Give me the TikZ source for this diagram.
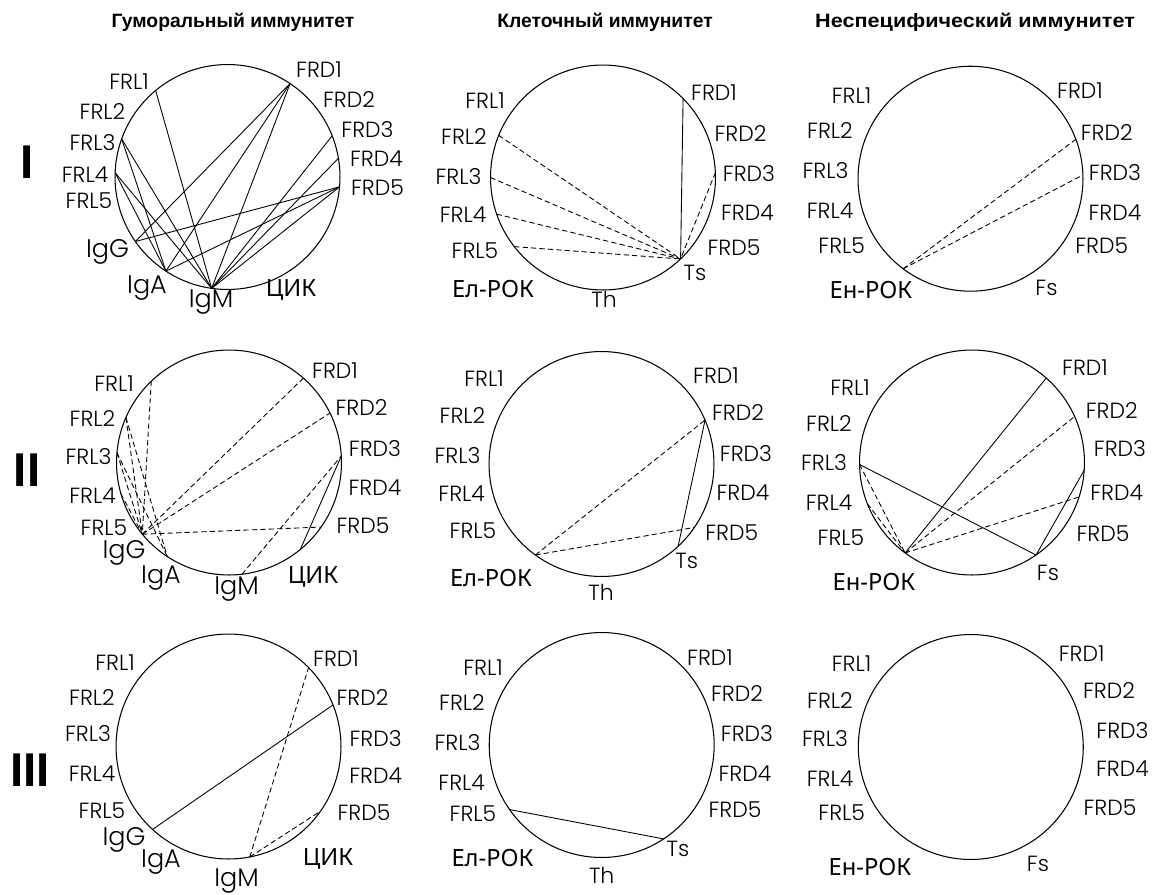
\documentclass[tikz,border=0pt]{standalone}
\usepackage{fontspec}
\setmainfont{Liberation Sans}
\newfontfamily\lat{Poppins Light}
\newfontfamily\cyr{Noto Sans}
\newcommand\onc[4]{\coordinate (#1) at ({#2+112.5*cos(#4)},{#3-112.5*sin(#4)});}
\begin{document}
\begin{tikzpicture}[x=0.02cm,y=-0.02cm,
  ring/.style={circle, draw, line width=0.6pt, minimum size=4.5cm, inner sep=0pt, outer sep=0pt},
  link/.style={line width=0.5pt},
  dlink/.style={line width=0.5pt, dash pattern=on 3pt off 1.8pt},
  lab/.style={inner sep=0pt, anchor=base, font=\lat\fontsize{12.5}{13}\selectfont},
  big/.style={inner sep=0pt, anchor=base, font=\lat\fontsize{14.5}{15}\selectfont},
  cyl/.style={inner sep=0pt, anchor=base, font=\cyr\fontsize{13.5}{14}\selectfont},
  ttl/.style={inner sep=0pt, font=\bfseries\fontsize{11}{12}\selectfont},
  rom/.style={inner sep=0pt, font=\bfseries\fontsize{27}{27}\selectfont}]
\useasboundingbox (0,0) rectangle (1157,894);

% titles
\node[ttl] (t1) at (233,22) {Гуморальный иммунитет};
\node[ttl] (t2) at (605,22) {Клеточный иммунитет};
\node[ttl, xscale=1.12, transform shape] (t3) at (975,22) {Неспецифический иммунитет};
\node[rom] (r1) at (27,162) {I};
\node[rom] (r2) at (27,470) {II};
\node[rom] (r3) at (30,770) {III};

% ===== Panel A (row 1, humoral)
\node[ring] (cA) at (227.5,177) {};
\node[lab] (A-l1) at (129,89) {FRL1};
\node[lab] (A-l2) at (102.5,119) {FRL2};
\node[lab] (A-l3) at (92.5,150) {FRL3};
\node[lab] (A-l4) at (85,182) {FRL4};
\node[lab] (A-l5) at (89,208) {FRL5};
\node[big] (A-g) at (107.5,257) {IgG};
\node[big] (A-a) at (147,293) {IgA};
\node[big] (A-m) at (211,307) {IgM};
\node[cyl] (A-c) at (291,296) {ЦИК};
\node[lab] (A-d1) at (319,77) {FRD1};
\node[lab] (A-d2) at (349,107) {FRD2};
\node[lab] (A-d3) at (367.5,137) {FRD3};
\node[lab] (A-d4) at (376.5,166) {FRD4};
\node[lab] (A-d5) at (377.5,195) {FRD5};
\onc{AL1}{227.5}{177}{129.7}
\onc{AL3}{227.5}{177}{160.2}
\onc{AL4}{227.5}{177}{177.8}
\onc{AD1}{227.5}{177}{56.2}
\onc{AD3}{227.5}{177}{21.5}
\onc{AD4}{227.5}{177}{9.6}
\onc{AD5}{227.5}{177}{-5}
\onc{AG}{227.5}{177}{215}
\onc{AA}{227.5}{177}{236.8}
\onc{AM}{227.5}{177}{261.9}
\draw[link] (AL1) -- (AM);
\draw[link] (AL3) -- (AA);
\draw[link] (AL3) -- (AM);
\draw[link] (AL4) -- (AA);
\draw[link] (AL4) -- (AM);
\draw[link] (AD1) -- (AG);
\draw[link] (AD1) -- (AA);
\draw[link] (AD1) -- (AM);
\draw[link] (AD3) -- (AM);
\draw[link] (AD4) -- (AM);
\draw[link] (AD5) -- (AG);
\draw[link] (AD5) -- (AA);
\draw[link] (AD5) -- (AM);

% ===== Panel B (row 1, cellular)
\node[ring] (cB) at (603,177.5) {};
\node[lab] (B-l1) at (485,108) {FRL1};
\node[lab] (B-l2) at (464,144) {FRL2};
\node[lab] (B-l3) at (458.5,184) {FRL3};
\node[lab] (B-l4) at (463,222) {FRL4};
\node[lab] (B-l5) at (475,258) {FRL5};
\node[cyl] (B-e) at (493,297) {Ел-РОК};
\node[lab] (B-h) at (604,307) {Th};
\node[lab] (B-s) at (695,280) {Ts};
\node[lab] (B-d1) at (714,100) {FRD1};
\node[lab] (B-d2) at (740.5,141) {FRD2};
\node[lab] (B-d3) at (749,181) {FRD3};
\node[lab] (B-d4) at (747.5,220) {FRD4};
\node[lab] (B-d5) at (734,255) {FRD5};
\onc{BD1}{603}{177.5}{44.6}
\onc{BD3}{603}{177.5}{2.5}
\onc{BL2}{603}{177.5}{158}
\onc{BL3}{603}{177.5}{180}
\onc{BL4}{603}{177.5}{199}
\onc{BL5}{603}{177.5}{217.9}
\onc{BS}{603}{177.5}{-46.4}
\draw[link] (BD1) -- (BS);
\draw[dlink] (BL2) -- (BS);
\draw[dlink] (BL3) -- (BS);
\draw[dlink] (BL4) -- (BS);
\draw[dlink] (BL5) -- (BS);
\draw[dlink] (BD3) -- (BS);

% ===== Panel C (row 1, nonspecific)
\node[ring] (cC) at (970.5,178.7) {};
\node[lab] (C-l1) at (851.5,103) {FRL1};
\node[lab] (C-l2) at (830,138) {FRL2};
\node[lab] (C-l3) at (825.5,178) {FRL3};
\node[lab] (C-l4) at (830,218) {FRL4};
\node[lab] (C-l5) at (841.7,253) {FRL5};
\node[cyl] (C-e) at (871,298) {Ен-РОК};
\node[lab] (C-f) at (1046.5,295) {Fs};
\node[lab] (C-d1) at (1080,98) {FRD1};
\node[lab] (C-d2) at (1106.7,140) {FRD2};
\node[lab] (C-d3) at (1115,180) {FRD3};
\node[lab] (C-d4) at (1115,220) {FRD4};
\node[lab] (C-d5) at (1101.7,253) {FRD5};
\onc{CD2}{970.5}{178.7}{20.5}
\onc{CD3}{970.5}{178.7}{1.9}
\onc{CE}{970.5}{178.7}{233.2}
\draw[dlink] (CE) -- (CD2);
\draw[dlink] (CE) -- (CD3);

% ===== Panel D (row 2, humoral)
\node[ring] (cD) at (229,462.5) {};
\node[lab] (D-l1) at (114,391.7) {FRL1};
\node[lab] (D-l2) at (92.5,426.7) {FRL2};
\node[lab] (D-l3) at (88.5,464) {FRL3};
\node[lab] (D-l4) at (92.5,503) {FRL4};
\node[lab] (D-l5) at (104,535) {FRL5};
\node[big] (D-g) at (124,558) {IgG};
\node[big] (D-a) at (161,583) {IgA};
\node[big] (D-m) at (236.5,594) {IgM};
\node[cyl] (D-c) at (313,583) {ЦИК};
\node[lab] (D-d1) at (335,378) {FRD1};
\node[lab] (D-d2) at (361.5,415) {FRD2};
\node[lab] (D-d3) at (375,456.7) {FRD3};
\node[lab] (D-d4) at (375,495) {FRD4};
\node[lab] (D-d5) at (363,533) {FRD5};
\onc{DL1}{229}{462.5}{133.7}
\onc{DL2}{229}{462.5}{156.4}
\onc{DL3}{229}{462.5}{175}
\onc{DL4}{229}{462.5}{196}
\onc{DG}{229}{462.5}{219.6}
\onc{DA}{229}{462.5}{236.7}
\onc{DM}{229}{462.5}{-83.4}
\onc{DC}{229}{462.5}{-50.7}
\onc{DD1}{229}{462.5}{48.6}
\onc{DD2}{229}{462.5}{26.1}
\onc{DD3}{229}{462.5}{3.3}
\onc{DD5}{229}{462.5}{-35}
\draw[dlink] (DL1) -- (DG);
\draw[dlink] (DL2) -- (DA);
\draw[dlink] (DL2) -- (DG);
\draw[dlink] (DL3) -- (DG);
\draw[dlink] (DL3) -- (DA);
\draw[dlink] (DL4) -- (DG);
\draw[dlink] (DG) -- (DD1);
\draw[dlink] (DG) -- (DD2);
\draw[dlink] (DG) -- (DD5);
\draw[dlink] (DM) -- (DD3);
\draw[link] (DC) -- (DD3);

% ===== Panel E (row 2, cellular)
\node[ring] (cE) at (601.5,464) {};
\node[lab] (E-l1) at (484,386.7) {FRL1};
\node[lab] (E-l2) at (462.5,423) {FRL2};
\node[lab] (E-l3) at (457.5,463) {FRL3};
\node[lab] (E-l4) at (461.7,501.7) {FRL4};
\node[lab] (E-l5) at (473,538) {FRL5};
\node[cyl] (E-e) at (491,586.7) {Ел-РОК};
\node[lab] (E-h) at (601,600) {Th};
\node[lab] (E-s) at (686.7,568) {Ts};
\node[lab] (E-d1) at (716,383) {FRD1};
\node[lab] (E-d2) at (738,420) {FRD2};
\node[lab] (E-d3) at (746,461) {FRD3};
\node[lab] (E-d4) at (743,500) {FRD4};
\node[lab] (E-d5) at (731.7,540) {FRD5};
\onc{ED2}{601.5}{464}{23}
\onc{ED5}{601.5}{464}{-34.3}
\onc{EE}{601.5}{464}{234}
\onc{ES}{601.5}{464}{-47.1}
\draw[dlink] (EE) -- (ED2);
\draw[dlink] (EE) -- (ED5);
\draw[link] (ED2) -- (ES);

% ===== Panel F (row 2, nonspecific)
\node[ring] (cF) at (972,462.5) {};
\node[lab] (F-l1) at (850,395) {FRL1};
\node[lab] (F-l2) at (829,431.7) {FRL2};
\node[lab] (F-l3) at (824,470) {FRL3};
\node[lab] (F-l4) at (829,510) {FRL4};
\node[lab] (F-l5) at (841,545) {FRL5};
\node[cyl] (F-e) at (874,590) {Ен-РОК};
\node[lab] (F-f) at (1048,580) {Fs};
\node[lab] (F-d1) at (1085,375) {FRD1};
\node[lab] (F-d2) at (1111.7,418) {FRD2};
\node[lab] (F-d3) at (1120,456.7) {FRD3};
\node[lab] (F-d4) at (1116.7,500) {FRD4};
\node[lab] (F-d5) at (1103,541) {FRD5};
\onc{FD1}{972}{462.5}{48.7}
\onc{FD2}{972}{462.5}{24.2}
\onc{FD3}{972}{462.5}{-3.9}
\onc{FD4}{972}{462.5}{-17.8}
\onc{FL3}{972}{462.5}{181}
\onc{FL4}{972}{462.5}{201.5}
\onc{FE}{972}{462.5}{233.5}
\onc{FF}{972}{462.5}{-55.3}
\draw[link] (FE) -- (FD1);
\draw[dlink] (FE) -- (FD2);
\draw[dlink] (FE) -- (FD4);
\draw[link] (FL3) -- (FF);
\draw[dlink] (FL3) -- (FE);
\draw[dlink] (FL4) -- (FE);
\draw[link] (FD3) -- (FF);

% ===== Panel G (row 3, humoral)
\node[ring] (cG) at (228.5,746.5) {};
\node[lab] (G-l1) at (115,670) {FRL1};
\node[lab] (G-l2) at (92,705) {FRL2};
\node[lab] (G-l3) at (88,741.7) {FRL3};
\node[lab] (G-l4) at (92,781.7) {FRL4};
\node[lab] (G-l5) at (102,818) {FRL5};
\node[big] (G-g) at (124,845) {IgG};
\node[big] (G-a) at (161,867) {IgA};
\node[big] (G-m) at (236.5,886) {IgM};
\node[cyl] (G-c) at (328,865) {ЦИК};
\node[lab] (G-d1) at (336,666.7) {FRD1};
\node[lab] (G-d2) at (362.5,705) {FRD2};
\node[lab] (G-d3) at (375.7,746.7) {FRD3};
\node[lab] (G-d4) at (375.7,783) {FRD4};
\node[lab] (G-d5) at (364,820) {FRD5};
\onc{GD1}{228.5}{746.5}{44.6}
\onc{GD2}{228.5}{746.5}{21.7}
\onc{GD5}{228.5}{746.5}{-35}
\onc{GG}{228.5}{746.5}{227.5}
\onc{GM}{228.5}{746.5}{-79.1}
\draw[link] (GG) -- (GD2);
\draw[dlink] (GM) -- (GD1);
\draw[dlink] (GM) -- (GD5);

% ===== Panel H (row 3, cellular)
\node[ring] (cH) at (601.7,745) {};
\node[lab] (H-l1) at (483,675) {FRL1};
\node[lab] (H-l2) at (462,710) {FRL2};
\node[lab] (H-l3) at (457.5,750) {FRL3};
\node[lab] (H-l4) at (461.7,790) {FRL4};
\node[lab] (H-l5) at (473,821.7) {FRL5};
\node[cyl] (H-e) at (492.5,866.7) {Ел-РОК};
\node[lab] (H-h) at (601.7,883) {Th};
\node[lab] (H-s) at (678,856.7) {Ts};
\node[lab] (H-d1) at (710,665) {FRD1};
\node[lab] (H-d2) at (737,701.7) {FRD2};
\node[lab] (H-d3) at (747,741) {FRD3};
\node[lab] (H-d4) at (745,781) {FRD4};
\node[lab] (H-d5) at (735,817) {FRD5};
\onc{HL5}{601.7}{745}{215}
\onc{HS}{601.7}{745}{-56.6}
\draw[link] (HL5) -- (HS);

% ===== Panel I (row 3, nonspecific)
\node[ring] (cI) at (970.8,747) {};
\node[lab] (I-l1) at (851.5,671.7) {FRL1};
\node[lab] (I-l2) at (830,708) {FRL2};
\node[lab] (I-l3) at (825,746.7) {FRL3};
\node[lab] (I-l4) at (830,786.7) {FRL4};
\node[lab] (I-l5) at (841.7,820) {FRL5};
\node[cyl] (I-e) at (870,875) {Ен-РОК};
\node[lab] (I-f) at (1038,871.7) {Fs};
\node[lab] (I-d1) at (1081.7,661.7) {FRD1};
\node[lab] (I-d2) at (1109,698.3) {FRD2};
\node[lab] (I-d3) at (1122.5,738) {FRD3};
\node[lab] (I-d4) at (1122.5,776.7) {FRD4};
\node[lab] (I-d5) at (1110,815) {FRD5};
\end{tikzpicture}
\end{document}
